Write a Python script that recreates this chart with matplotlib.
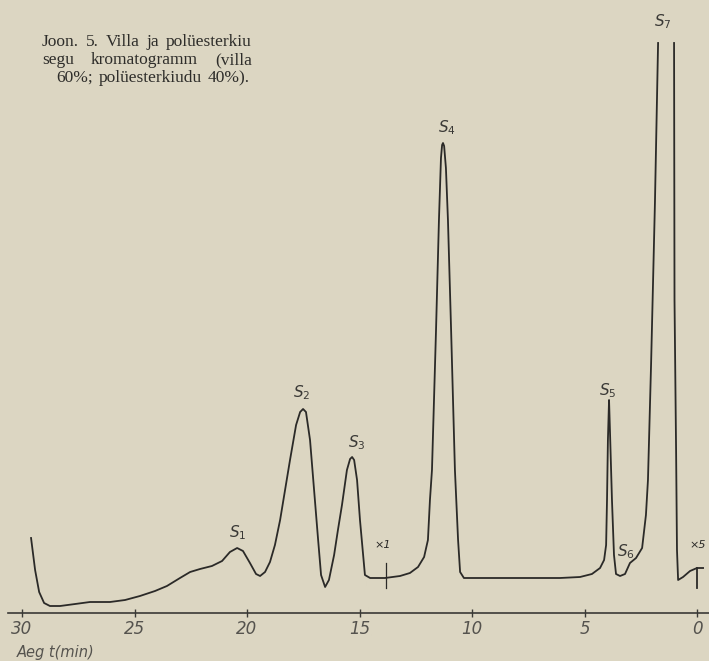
import matplotlib
matplotlib.use("Agg")
import matplotlib.pyplot as plt

# chromatogram trace: retention time (min) and detector signal (arb. units)
time_min = [29.60, 29.42, 29.24, 29.02, 28.76, 28.31, 27.64, 26.98, 26.09, 25.42,
            24.76, 24.09, 23.56, 22.98, 22.53, 22.09, 21.56, 21.11, 20.76, 20.44,
            20.18, 19.87, 19.60, 19.42, 19.20, 18.98, 18.76, 18.53, 18.31, 18.09,
            17.82, 17.64, 17.51, 17.38, 17.20, 17.02, 16.84, 16.71, 16.53, 16.36,
            16.13, 15.96, 15.78, 15.56, 15.42, 15.33, 15.24, 15.11, 14.98, 14.84,
            14.76, 14.53, 13.87, 13.20, 12.76, 12.40, 12.13, 11.96, 11.87, 11.78,
            11.60, 11.47, 11.38, 11.33, 11.29, 11.24, 11.16, 11.07, 10.93, 10.76,
            10.62, 10.53, 10.36, 9.64, 7.87, 6.09, 5.20, 4.67, 4.31, 4.13,
            4.04, 4.00, 3.96, 3.91, 3.87, 3.78, 3.69, 3.60, 3.42, 3.20,
            2.98, 2.71, 2.44, 2.27, 2.18, 2.04, 1.87, 1.73]
signal = [15.0, 8.6, 4.2, 2.0, 1.4, 1.4, 1.8, 2.2, 2.2, 2.6,
          3.4, 4.4, 5.4, 7.0, 8.2, 8.8, 9.4, 10.4, 12.2, 13.0,
          12.4, 10.0, 7.8, 7.4, 8.2, 10.2, 13.6, 18.6, 24.6, 30.6,
          37.6, 40.2, 40.8, 40.2, 34.6, 24.6, 14.6, 7.6, 5.2, 6.6,
          11.6, 16.6, 21.6, 28.6, 30.8, 31.2, 30.6, 26.6, 18.6, 11.6,
          7.6, 7.0, 7.0, 7.4, 8.0, 9.2, 11.2, 14.6, 22.6, 28.6,
          56.6, 78.6, 91.0, 93.6, 94.0, 93.4, 89.0, 78.6, 56.6, 28.6,
          14.6, 8.2, 7.0, 7.0, 7.0, 7.0, 7.2, 7.8, 9.0, 10.6,
          13.6, 22.6, 34.6, 42.6, 36.6, 22.6, 11.6, 7.8, 7.4, 7.8,
          10.0, 11.0, 13.0, 19.6, 26.6, 50.0, 82.0, 114.0]
# S7 goes off scale; the trace comes back down on its right side
time_tail = [1.02, 1.00, 0.93, 0.89, 0.84, 0.62, 0.31, 0.0, -0.27]
signal_tail = [114.0, 62.6, 32.6, 12.6, 6.6, 7.2, 8.4, 9.0, 9.0]

peak_names = ["S$_1$", "S$_2$", "S$_3$", "S$_4$", "S$_5$", "S$_6$", "S$_7$"]
peak_time = [20.40, 17.56, 15.11, 11.11, 3.96, 3.16, 1.51]
peak_label_y = [16.0, 44.0, 34.0, 97.0, 44.4, 12.2, 118.2]

# attenuation changes
atten_names = ["×1", "×5"]
atten_time = [13.82, 0.0]
atten_label_time = [13.96, -0.04]

xticks = [30, 25, 20, 15, 10, 5, 0]
caption = ["Joon. 5. Villa ja polüesterkiu",
           "segu kromatogramm (villa",
           "60%; polüesterkiudu 40%)."]

paper = "#dcd6c2"
ink = "#2b2a28"

plt.rcParams["mathtext.fontset"] = "dejavusans"
fig = plt.figure(figsize=(7.09, 6.61), dpi=100, facecolor=paper)
ax = fig.add_axes([0, 0, 1, 1], facecolor=paper)

ax.plot(time_min, signal, color=ink, lw=1.3, solid_joinstyle="round")
ax.plot(time_tail, signal_tail, color=ink, lw=1.3, solid_joinstyle="round")

# attenuation marks
ax.plot([atten_time[0], atten_time[0]], [5.0, 10.0], color=ink, lw=0.9)
ax.plot([atten_time[1], atten_time[1]], [5.0, 9.0], color=ink, lw=1.3)
for name, t in zip(atten_names, atten_label_time):
    ax.text(t, 13.6, name, fontsize=8, style="italic", color=ink,
            ha="center", va="center")

for name, t, y in zip(peak_names, peak_time, peak_label_y):
    ax.text(t, y, name, fontsize=11, style="italic", color="#3a3936",
            ha="center", va="center")

ax.set_xlim(30.98, -0.533)
ax.set_ylim(-9.6, 122.6)

for side in ["top", "left", "right"]:
    ax.spines[side].set_visible(False)
ax.spines["bottom"].set_position(("data", 0))
ax.spines["bottom"].set_bounds(30.62, -0.533)
ax.spines["bottom"].set_color("#3a3936")
ax.spines["bottom"].set_linewidth(1.2)
ax.set_yticks([])
ax.set_xticks(xticks)
ax.set_xticklabels([str(v) for v in xticks], fontstyle="italic")
ax.tick_params(axis="x", direction="inout", length=6, width=1,
               colors="#3a3936", labelsize=12, pad=2)
ax.tick_params(axis="x", labelcolor="#55534e")

ax.text(30.22, -7.8, "Aeg t(min)", fontsize=10.5, style="italic",
        color="#55534e", ha="left", va="center")

# justified caption, drawn word by word
fig.canvas.draw()
renderer = fig.canvas.get_renderer()
left, right = 42, 252
line_y = [42, 60, 78]
for i, line in enumerate(caption):
    words = line.split()
    texts = []
    for w in words:
        texts.append(fig.text(0, 0, w, fontsize=12.5, family="Liberation Serif",
                              color="#2e2d2a", va="center"))
    widths = [t.get_window_extent(renderer).width for t in texts]
    y = 1 - line_y[i] / 661
    if i < len(caption) - 1:
        gap = (right - left - sum(widths)) / (len(words) - 1)
        x = left
    else:
        gap = 6
        x = (left + right) / 2 - (sum(widths) + gap * (len(words) - 1)) / 2 + 6
    for t, w in zip(texts, widths):
        t.set_position((x / 709, y))
        x += w + gap

fig.savefig("out.png", dpi=100, facecolor=paper)
